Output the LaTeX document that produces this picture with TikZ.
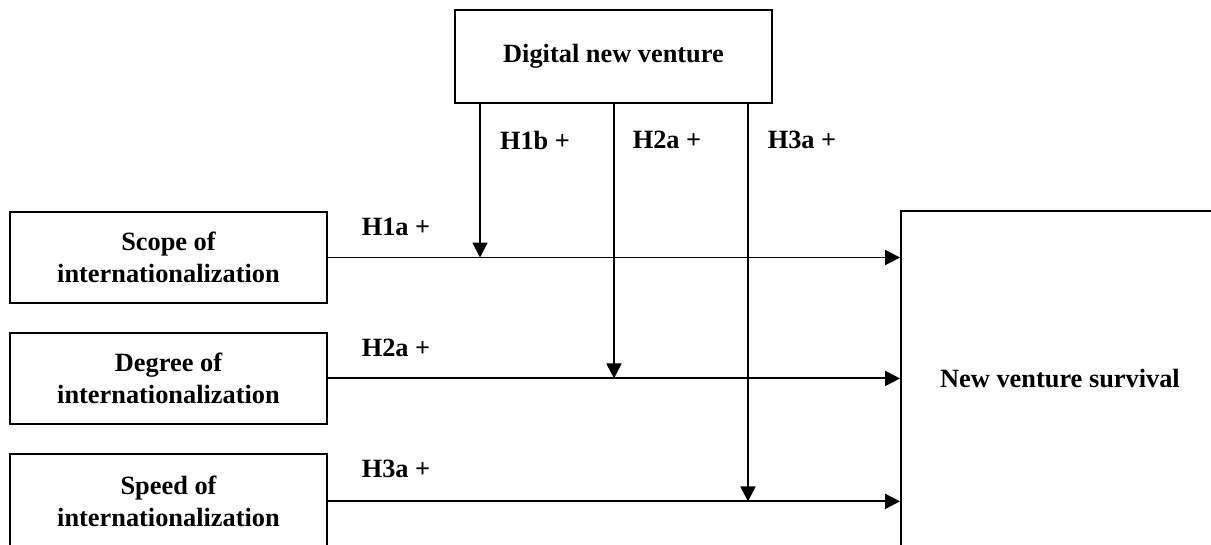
\documentclass[tikz,border=0pt]{standalone}
\usepackage{fontspec}
\setmainfont{Liberation Serif}
\usetikzlibrary{arrows.meta,positioning}

\tikzset{
  box/.style={draw, line width=1.1pt, align=center, font=\bfseries\fontsize{15}{18.2}\selectfont,
    minimum width=6.34cm, minimum height=1.82cm, inner sep=0pt},
  lab/.style={font=\bfseries\fontsize{15}{18.2}\selectfont, inner sep=0pt},
  arr/.style={line width=1.1pt, -{Triangle[length=8.5pt,width=8.5pt]}}
}

\begin{document}
\begin{tikzpicture}

            \useasboundingbox (0,0) rectangle (24.22,10.88);

            \node[box, minimum height=1.86cm] (dig) at (12.27,9.75) {Digital new venture};

            \node[box] (scope) at (3.37,5.73) {Scope of\\internationalization};
            \node[box, below=0.56cm of scope] (degree) {Degree of\\internationalization};
            \node[box, below=0.56cm of degree, minimum height=1.9cm] (speed) {Speed of\\internationalization};

            \node[box, minimum width=6.36cm, minimum height=6.72cm] (surv) at (21.2,3.3) {New venture survival};

            \draw[arr] (scope.east) -- (scope.east -| surv.west);
            \draw[arr] (degree.east) -- (degree.east -| surv.west);
            \draw[arr] (speed.east) -- (speed.east -| surv.west);

            \coordinate (m1) at (9.6,0 |- scope.east);
            \coordinate (m2) at (12.28,0 |- degree.east);
            \coordinate (m3) at (14.96,0 |- speed.east);

            \draw[arr] (dig.south -| m1) -- (m1);
            \draw[arr] (dig.south -| m2) -- (m2);
            \draw[arr] (dig.south -| m3) -- (m3);

            \node[lab] (h1b) at (10.7,8.08) {H1b +};
            \node[lab] (h2b) at (13.34,8.08) {H2a +};
            \node[lab] (h3b) at (16.04,8.08) {H3a +};

            \node[lab] (h1a) at (7.92,6.34) {H1a +};
            \node[lab] (h2a) at (7.92,3.92) {H2a +};
            \node[lab] (h3a) at (7.92,1.5) {H3a +};

\end{tikzpicture}
\end{document}
